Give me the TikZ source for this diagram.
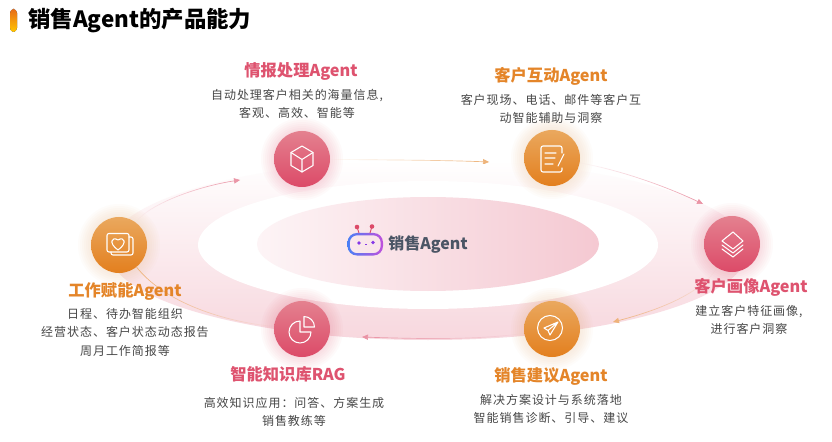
\documentclass[tikz,border=0pt]{standalone}
\usepackage{fontspec}
\setmainfont{Noto Sans CJK SC}
\newfontfamily\bodyfont[LetterSpace=8]{Noto Sans CJK SC}
\usetikzlibrary{arrows.meta,fadings}
\definecolor{rosemain}{HTML}{DC4A68}
\definecolor{rosetop}{HTML}{E4818F}
\definecolor{amber}{HTML}{E37F1E}
\definecolor{ambertop}{HTML}{EAA85E}
\definecolor{logoblue}{HTML}{4A80F5}
\definecolor{logoviolet}{HTML}{C050DC}
\definecolor{slate}{HTML}{4B5565}
\tikzfading[name=fromleft, left color=transparent!100, right color=transparent!0]
\tikzfading[name=fromright, left color=transparent!0, right color=transparent!100]
\tikzset{
  roseball/.style={circle,inner sep=0pt,minimum size=42pt,top color=rosetop,middle color=rosemain,bottom color=rosemain},
  amberball/.style={circle,inner sep=0pt,minimum size=42pt,top color=ambertop,middle color=amber,bottom color=amber},
  rosehead/.style={font=\fontsize{12.2}{14}\selectfont\bfseries,text=rosemain!95!white},
  amberhead/.style={font=\fontsize{12.2}{14}\selectfont\bfseries,text=amber!95!white},
  bodytext/.style={font=\bodyfont\fontsize{9}{13.9}\selectfont,text=black!72,align=center},
  iconline/.style={draw=white,line width=.8pt,line join=round,line cap=round},
  roseflow/.style={draw=rosemain!60!white,line width=.5pt,-{Triangle[length=4.5pt,width=4pt]}},
  amberflow/.style={draw=amber!60!white,line width=.5pt,-{Triangle[length=4.5pt,width=4pt]}}
}
\begin{document}
\begin{tikzpicture}[x=.75pt,y=-.75pt]
  \useasboundingbox (0,0) rectangle (832,442);
  \fill[white] (0,0) rectangle (832,442);

  \shade[top color=white,bottom color=rosemain!22!white] (428,250) ellipse [x radius=320,y radius=90];
  \fill[white] (428,245) ellipse [x radius=230,y radius=64];
  \shade[shading angle=155,left color=rosemain!6!white,right color=rosemain!30!white] (428,244) ellipse [x radius=171,y radius=47];

  \foreach \gx/\gy/\gc in {302/159/rosemain,732/244/rosemain,302/329/rosemain,552/158/ambertop,552/329/ambertop,119/245/ambertop}
    \foreach \gr in {29,31,...,41}
      \fill[\gc,opacity=.028] (\gx,\gy) circle [radius=\gr];

  \fill[top color=amber!85!red,bottom color=orange!45!yellow,rounded corners=3pt] (10,9) rectangle (17,32);
  \node[anchor=west,inner sep=0pt,font=\fontsize{16.8}{20}\selectfont\bfseries] (title) at (28,21) {销售Agent的产品能力};

  \node[roseball] (info) at (302,159) {};
  \node[amberball] (contact) at (552,158) {};
  \node[roseball] (portrait) at (732,244) {};
  \node[amberball] (advice) at (552,329) {};
  \node[roseball] (rag) at (302,329) {};
  \node[amberball] (work) at (119,245) {};

  \coordinate (tipinfo) at (240,180);
  \coordinate (tipcontact) at (489,162);
  \coordinate (tipportrait) at (703,204);
  \coordinate (tipadvice) at (613,322);
  \coordinate (tiprag) at (362,337);

  \draw[roseflow,path fading=fromleft] (work) .. controls (150,203) and (200,186) .. (tipinfo);
  \draw[amberflow,path fading=fromleft] (info) .. controls (380,160) and (440,160) .. (tipcontact);
  \draw[roseflow,path fading=fromleft] (contact) .. controls (620,170) and (665,186) .. (tipportrait);
  \draw[amberflow,path fading=fromright] (portrait) .. controls (700,295) and (655,311) .. (tipadvice);
  \draw[roseflow,path fading=fromright] (advice) .. controls (480,340) and (420,339) .. (tiprag);
  \draw[draw=amber!60!white,line width=.5pt,path fading=fromright] (work) .. controls (165,303) and (225,322) .. (rag);

  \node[rosehead] (infohead) at (301,71) {情报处理Agent};
  \node[bodytext] (infotext) at (297,104) {自动处理客户相关的海量信息,\\客观、高效、智能等};
  \node[amberhead] (contacthead) at (551,76) {客户互动Agent};
  \node[bodytext] (contacttext) at (551,109) {客户现场、电话、邮件等客户互\\动智能辅助与洞察};
  \node[rosehead] (portraithead) at (751,287) {客户画像Agent};
  \node[bodytext] (portraittext) at (749,320) {建立客户特征画像,\\进行客户洞察};
  \node[amberhead] (advicehead) at (551,376) {销售建议Agent};
  \node[bodytext] (advicetext) at (551,409) {解决方案设计与系统落地\\智能销售诊断、引导、建议};
  \node[rosehead] (raghead) at (288,374) {智能知识库RAG};
  \node[bodytext] (ragtext) at (294,412) {高效知识应用：问答、方案生成\\销售教练等};
  \node[amberhead] (workhead) at (125,291) {工作赋能Agent};
  \node[bodytext] (worktext) at (125,332) {日程、待办智能组织\\经营状态、客户状态动态报告\\周月工作简报等};

  \draw[iconline] (302,146) -- (313,152.5) -- (313,165.5) -- (302,172) -- (291,165.5) -- (291,152.5) -- cycle;
  \draw[iconline] (291,152.5) -- (302,159.5) -- (313,152.5) (302,159.5) -- (302,172);

  \draw[iconline,rounded corners=1.5pt] (562,153) -- (562,146) -- (541,146) -- (541,172) -- (562,172) -- (562,168);
  \draw[iconline] (545,153) -- (556,153) (545,158) -- (555,158) (545,164) -- (553,164) (558,166) -- (564,154);

  \draw[iconline] (733,232) -- (743,241) -- (733,249) -- (722,241) -- cycle;
  \draw[iconline] (722,245) -- (733,253) -- (743,245) (722,249) -- (733,257) -- (743,249);

  \draw[iconline] (550,328) circle [radius=12.5];
  \draw[iconline] (558,322) -- (544,328) -- (548,330.5) -- (550,335) -- cycle (558,322) -- (548,330.5);

  \draw[iconline] (300,321) arc [start angle=-90,end angle=-360,radius=11] -- (300,332) -- cycle;
  \draw[iconline] (304,327) -- (304,316.5) arc [start angle=-90,end angle=0,radius=10.5] -- cycle;

  \draw[iconline,rounded corners=1.5pt] (107,233.5) rectangle (129,252);
  \draw[iconline,rounded corners=1.5pt] (129,237) -- (133,237) -- (133,255) -- (111,255) -- (111,252);
  \draw[iconline] (118,250) .. controls (108,243) and (112,236) .. (118,240) .. controls (124,236) and (128,243) .. (118,250);

  \shade[even odd rule,left color=logoblue,right color=logoviolet] [rounded corners=7pt] (347.5,233) rectangle (383,255.5) [rounded corners=5.5pt] (349.8,235.3) rectangle (380.7,253.2);
  \draw[rosemain,line width=.7pt] (359,233) -- (357,227) (370,233) -- (372,226.5);
  \fill[rosemain] (357,227) circle [radius=2.3] (372,226.5) circle [radius=2.3];
  \fill[logoviolet!70!blue] (359,243) circle [radius=1.8] (373,242.5) circle [radius=1.8];
  \draw[logoviolet!70!blue,line width=.8pt] (365,244.5) -- (367,244.5);
  \node[font=\fontsize{12}{14}\selectfont\bfseries,text=slate] (center) at (428,245) {销售Agent};
\end{tikzpicture}
\end{document}
